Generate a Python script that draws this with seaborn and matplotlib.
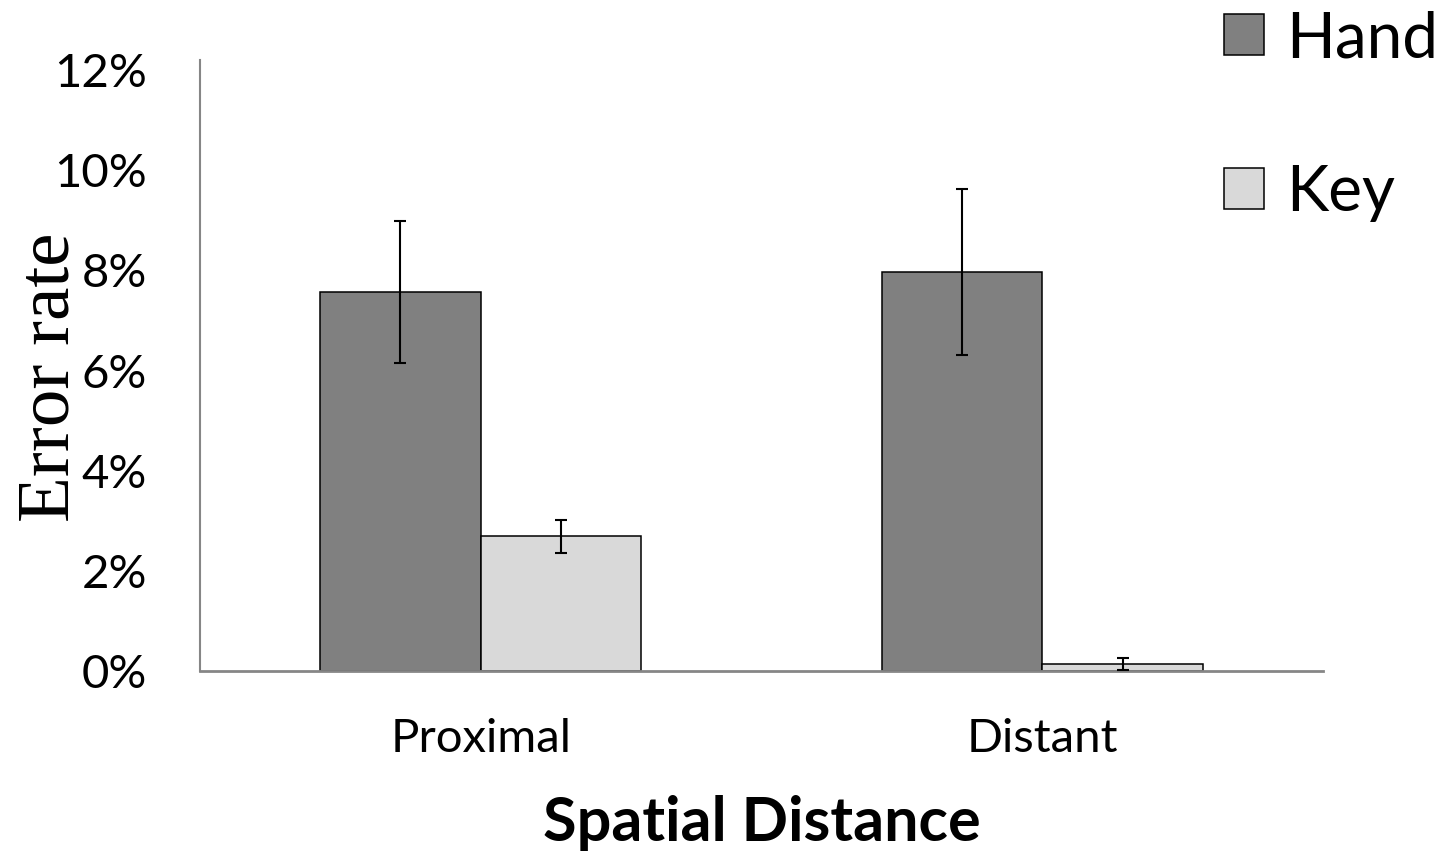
import matplotlib
matplotlib.use("Agg")
import matplotlib.pyplot as plt
import pandas as pd
import numpy as np
import seaborn as sbn

# values (percent)
distances = ["Proximal", "Distant"]
groups = ["Hand", "Key"]
hand_rate = [7.57, 7.96]
key_rate = [2.69, 0.14]
hand_err = [1.42, 1.66]
key_err = [0.33, 0.11]
yticks = [0, 2, 4, 6, 8, 10, 12]

dtf = pd.DataFrame({
    "distance": distances * 2,
    "group": [groups[0]] * 2 + [groups[1]] * 2,
    "rate": hand_rate + key_rate,
    "err": hand_err + key_err,
})

sbn.set_style("white")
plt.rcParams["font.family"] = ["Lato", "DejaVu Sans"]
plt.rcParams["text.color"] = "black"
plt.rcParams["axes.labelcolor"] = "black"

fig = plt.figure(figsize=(14.51, 8.55), dpi=100)
ax = fig.add_axes([0.1378, 0.2152, 0.774, 0.7146])

sbn.barplot(data=dtf, x="distance", y="rate", hue="group", order=distances,
            hue_order=groups, palette=["#808080", "#d9d9d9"], width=0.572,
            edgecolor="black", linewidth=1.1, errorbar=None, ax=ax)

# error bars on bar centres
for cont, grp in zip(ax.containers, groups):
    sub = dtf[dtf.group == grp].set_index("distance").loc[distances]
    xs = [p.get_x() + p.get_width() / 2 for p in cont.patches]
    ax.errorbar(xs, sub["rate"].values, yerr=sub["err"].values, fmt="none",
                ecolor="black", elinewidth=1.5, capsize=4.5, capthick=1.5, zorder=5)

ax.set_xlim(-0.5, 1.5)
ax.set_ylim(0, 12.2)
ax.set_yticks(yticks)
ax.set_yticklabels([f"{t}%" for t in yticks])
ax.tick_params(axis="both", length=0, labelsize=34, colors="black")
ax.tick_params(axis="x", pad=34)
ax.tick_params(axis="y", pad=38)

for s in ["top", "right"]:
    ax.spines[s].set_visible(False)
ax.spines["left"].set_color("#868686")
ax.spines["left"].set_linewidth(1.5)
ax.spines["bottom"].set_color("#868686")
ax.spines["bottom"].set_linewidth(2)

ax.set_xlabel("Spatial Distance", fontsize=44, fontweight="bold", labelpad=25)
ax.set_ylabel("Error rate", fontsize=54, family="Liberation Serif", labelpad=-22, y=0.48)

handles, labels = ax.get_legend_handles_labels()
ax.legend(handles, labels, loc="upper left", bbox_to_anchor=(0.8436, 0.988),
          bbox_transform=fig.transFigure, frameon=False, fontsize=46,
          handlelength=0.62, handleheight=0.62, handletextpad=0.35,
          labelspacing=1.5, borderpad=0, borderaxespad=0)

plt.savefig("out.png", dpi=100)
plt.clf()
plt.close()
